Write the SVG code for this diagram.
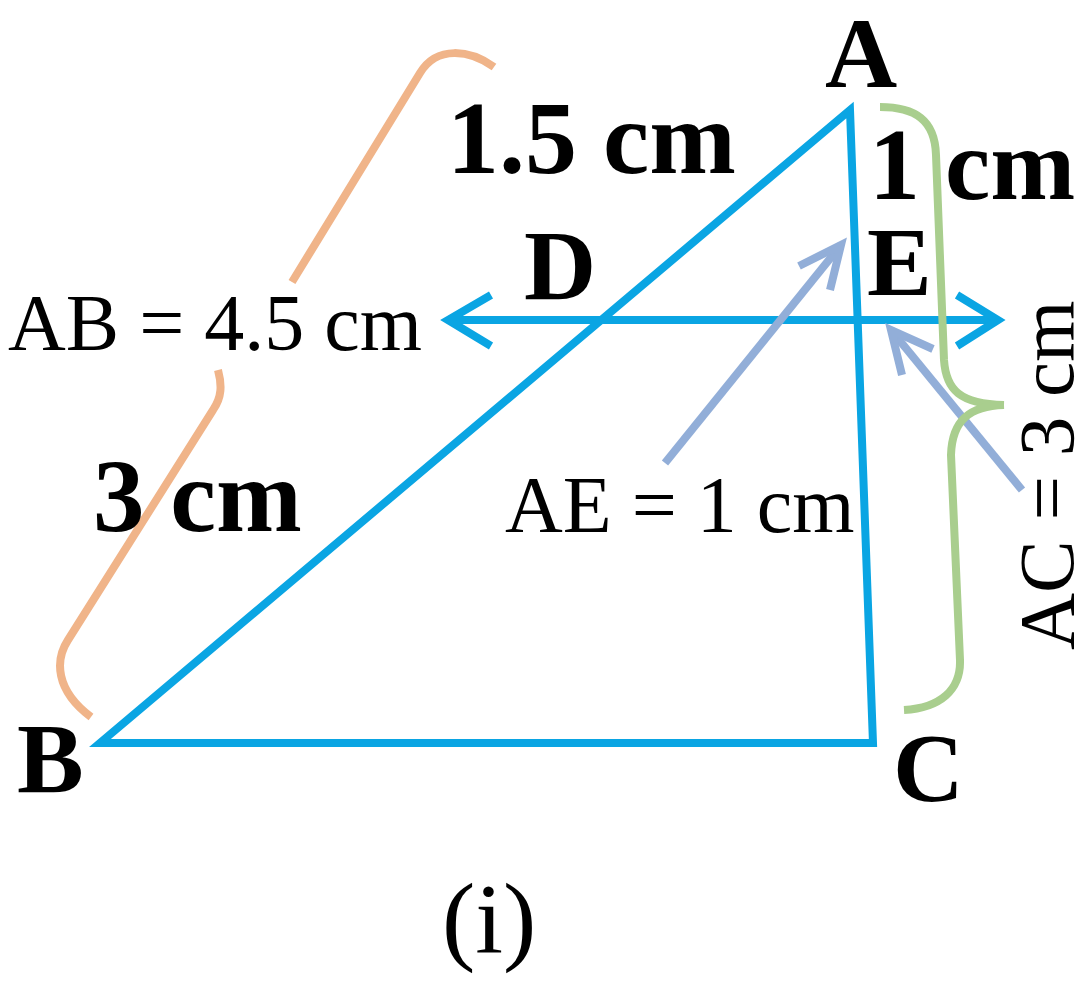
<svg xmlns="http://www.w3.org/2000/svg" width="1079" height="992" viewBox="0 0 1079 992">
<style>
.tri{fill:none;stroke:#0AA5E3;stroke-width:8;stroke-linejoin:miter}
.br1{fill:none;stroke:#F0B489;stroke-width:8;stroke-linecap:butt}
.br2{fill:none;stroke:#A9CE8E;stroke-width:8}
.ptr{fill:none;stroke:#92AED8;stroke-width:8}
.b{font-family:"Liberation Serif",serif;font-weight:bold;fill:#000}
.r{font-family:"Liberation Serif",serif;fill:#000}
</style>
<rect width="1079" height="992" fill="#fff"/>
<g id="triangle">
<polygon class="tri" points="850,110 100,743 873,743"/>
</g>
<g id="connectors">
<line class="tri" x1="448" y1="320" x2="998" y2="320"/>
<polyline class="tri" points="491,295 448,320 491,346"/>
<polyline class="tri" points="957,295 998,320 957,346"/>
<line class="ptr" x1="665" y1="463" x2="841" y2="245"/>
<polyline class="ptr" points="799,266 841,245 830,290"/>
<line class="ptr" x1="1022" y1="490" x2="891" y2="330"/>
<polyline class="ptr" points="933,349 891,330 902,375"/>
</g>
<g id="brace-AB">
<path class="br1" d="M494,67 C470,50 437,45 420,73 L292,282"/>
<path class="br1" d="M218,370 C222,385 222,397 213,410 L68,640 C55,660 55,690 91,717"/>
</g>
<g id="brace-AC">
<path class="br2" d="M880,107 C915,107 935,120 936,155 L944,360 C946,390 960,404 1004,405"/>
<path class="br2" d="M1004,405 C970,406 952,420 951,455 L960,660 C961,690 940,708 904,710"/>
</g>
<g id="labels">
<text class="b" x="825" y="87" font-size="100">A</text>
<text class="b" x="447" y="173" font-size="104">1.5 cm</text>
<text class="b" x="869" y="199" font-size="102">1</text>
<text class="b" x="945" y="199" font-size="102">cm</text>
<text class="b" x="524" y="299" font-size="100">D</text>
<text class="b" x="867" y="295" font-size="97">E</text>
<text class="r" x="8" y="350" font-size="80">AB = 4.5 cm</text>
<text class="b" x="93" y="531" font-size="103">3 cm</text>
<text class="r" x="505" y="532" font-size="80">AE = 1 cm</text>
<text class="b" x="17" y="792" font-size="100">B</text>
<text class="b" x="893" y="801" font-size="98">C</text>
<text class="r" transform="translate(1073,650) rotate(-90)" font-size="79">AC = 3 cm</text>
<text class="r" x="442" y="952" font-size="100">(i)</text>
</g>
</svg>
